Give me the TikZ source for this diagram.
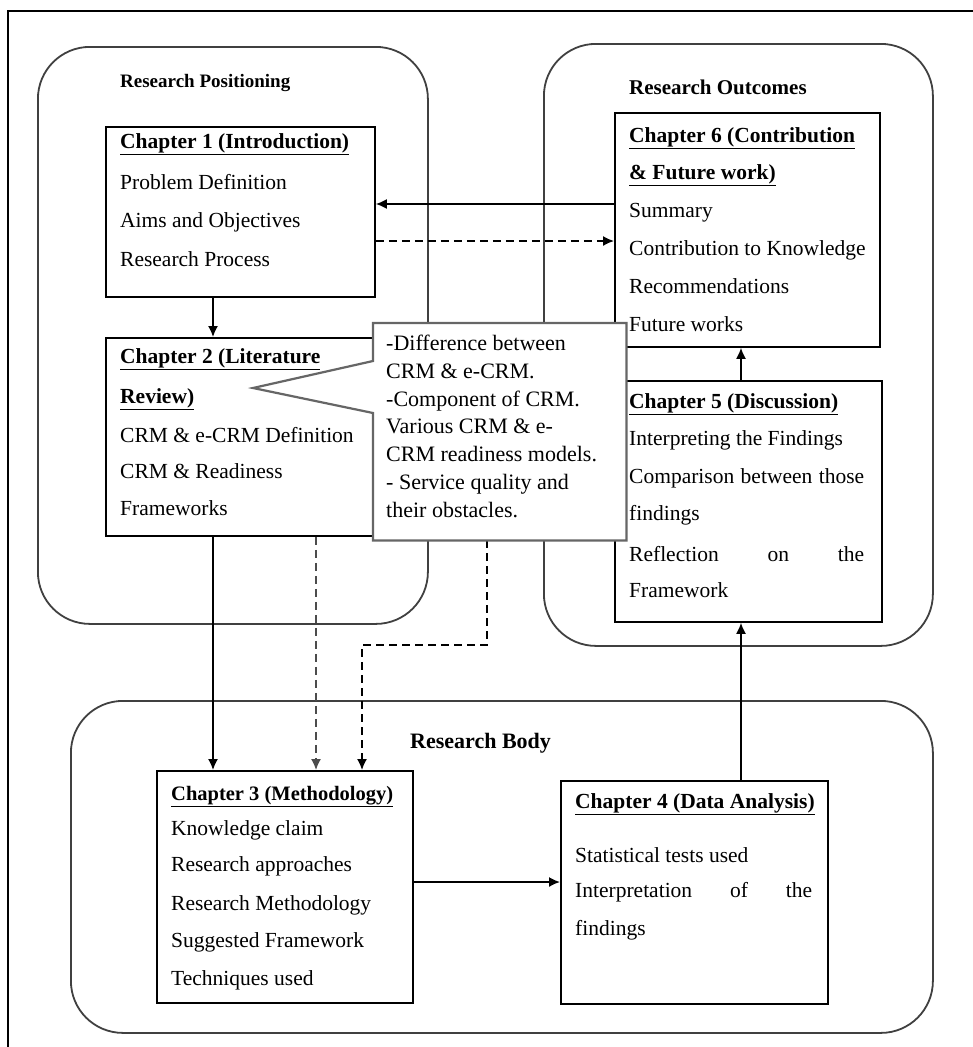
\documentclass[tikz,border=0pt]{standalone}
\usepackage{fontspec}
\setmainfont{Liberation Serif}
\usetikzlibrary{arrows.meta}
\begin{document}
\begin{tikzpicture}[x=1pt,y=-1pt,
  frame/.style={draw=black, line width=1.6pt},
  region/.style={draw=black!75, line width=1.8pt, rounded corners=52pt, anchor=north west, inner sep=0pt},
  chbox/.style={draw=black, line width=1.8pt, fill=white, anchor=north west, inner sep=0pt},
  txt/.style={anchor=west, inner sep=0pt, font=\fontsize{21.5}{26}\selectfont, text height=15pt, text depth=4.5pt},
  ttl/.style={anchor=west, inner sep=0pt, font=\fontsize{21.5}{26}\bfseries\selectfont, text height=15pt, text depth=4.5pt},
  cotxt/.style={anchor=west, inner sep=0pt, font=\fontsize{22}{26}\selectfont, text height=15pt, text depth=4.5pt},
  lbl/.style={anchor=west, inner sep=0pt, font=\fontsize{20}{24}\bfseries\selectfont},
  arr/.style={line width=1.6pt, -{Latex[length=11pt,width=10pt]}},
  darr/.style={arr, dash pattern=on 8pt off 5pt},
]
\useasboundingbox (0,0) rectangle (973,1047);
% outer frame
\draw[frame] (973,11) -- (8,11) -- (8,1047);

% helper coordinates
\coordinate (c213) at (213,0);
\coordinate (c316) at (316,0);
\coordinate (c362) at (362,0);
\coordinate (c487) at (487,0);
\coordinate (c741) at (741,0);
\coordinate (r204) at (0,204);
\coordinate (r241) at (0,241);
\coordinate (r645) at (0,645);
\coordinate (r882) at (0,882);
\coordinate (r361) at (0,361);
\coordinate (r413) at (0,413);
\coordinate (tip) at (253,388);

% regions
\node[region, minimum width=390pt, minimum height=577pt] (pos) at (37,46) {};
\node[region, minimum width=389pt, minimum height=602pt] (out) at (543,43) {};
\node[region, minimum width=862pt, minimum height=332pt] (body) at (70,700) {};
\node[lbl, font=\fontsize{19}{23}\bfseries\selectfont] (lpos) at (120,83) {Research Positioning};
\node[lbl, font=\fontsize{21}{25}\bfseries\selectfont] (lout) at (629,87) {Research Outcomes};
\node[lbl, font=\fontsize{22}{26}\bfseries\selectfont] (lbody) at (410,743) {Research Body};

% chapter boxes
\node[chbox, minimum width=269pt, minimum height=170pt] (ch1) at (105,126) {};
\node[chbox, minimum width=275pt, minimum height=198pt] (ch2) at (105,337) {};
\node[chbox, minimum width=265pt, minimum height=234pt] (ch6) at (614,112) {};
\node[chbox, minimum width=267pt, minimum height=241pt] (ch5) at (614,380) {};
\node[chbox, minimum width=256pt, minimum height=232pt] (ch3) at (156,770) {};
\node[chbox, minimum width=267pt, minimum height=223pt] (ch4) at (560,780) {};

% chapter 1
\node[ttl] (t1) at (120,143) {\underline{Chapter 1 (Introduction)}};
\node[txt] (t1a) at (120,184) {Problem Definition};
\node[txt] (t1b) at (120,222) {Aims and Objectives};
\node[txt] (t1c) at (120,261) {Research Process};
% chapter 2
\node[ttl] (t2) at (120,358) {\underline{Chapter 2 (Literature}};
\node[ttl] (t2r) at (120,398) {\underline{Review)}};
\node[txt] (t2a) at (120,437) {CRM \& e-CRM Definition};
\node[txt] (t2b) at (120,473) {CRM \& Readiness};
\node[txt] (t2c) at (120,510) {Frameworks};
% chapter 6
\node[ttl] (t6) at (629,137) {\underline{Chapter 6 (Contribution}};
\node[ttl] (t6r) at (629,174) {\underline{\& Future work)}};
\node[txt] (t6a) at (629,212) {Summary};
\node[txt] (t6b) at (629,250) {Contribution to Knowledge};
\node[txt] (t6c) at (629,288) {Recommendations};
\node[txt] (t6d) at (629,326) {Future works};
% chapter 5
\node[ttl] (t5) at (629,403) {\underline{Chapter 5 (Discussion)}};
\node[txt] (t5a) at (629,440) {Interpreting the Findings};
\node[txt] (t5b) at (629,478) {\makebox[235pt][s]{Comparison\hfill between\hfill those}};
\node[txt] (t5c) at (629,515) {findings};
\node[txt] (t5d) at (629,556) {\makebox[235pt][s]{Reflection\hfill on\hfill the}};
\node[txt] (t5e) at (629,592) {Framework};
% chapter 3
\node[ttl, font=\fontsize{20.5}{25}\bfseries\selectfont] (t3) at (171,795) {\underline{Chapter 3 (Methodology)}};
\node[txt] (t3a) at (171,830) {Knowledge claim};
\node[txt] (t3b) at (171,866) {Research approaches};
\node[txt] (t3c) at (171,905) {Research Methodology};
\node[txt] (t3d) at (171,942) {Suggested Framework};
\node[txt] (t3e) at (171,980) {Techniques used};
% chapter 4
\node[ttl] (t4) at (575,803) {\underline{Chapter 4 (Data Analysis)}};
\node[txt] (t4a) at (575,857) {Statistical tests used};
\node[txt] (t4b) at (575,892) {\makebox[237pt][s]{Interpretation\hfill of\hfill the}};
\node[txt] (t4c) at (575,930) {findings};

% connectors
\draw[arr] (ch1.south -| c213) -- (ch2.north -| c213);
\draw[arr] (ch6.west |- r204) -- (ch1.east |- r204);
\draw[darr] (ch1.east |- r241) -- (ch6.west |- r241);
\draw[arr] (ch2.south -| c213) -- (ch3.north -| c213);
\draw[darr, draw=black!70] (ch2.south -| c316) -- (ch3.north -| c316);
\draw[arr] (ch3.east |- r882) -- (ch4.west |- r882);
\draw[arr] (ch4.north -| c741) -- (ch5.south -| c741);
\draw[arr] (ch5.north -| c741) -- (ch6.south -| c741);

% callout
\node[anchor=north west, inner sep=0pt, minimum width=253pt, minimum height=217pt] (co) at (373,323) {};
\draw[darr] (co.south -| c487) |- (r645 -| c362) -- (ch3.north -| c362);
\filldraw[fill=white, draw=black!60, line width=2.2pt, line join=miter]
  (co.north west) -- (co.north east) -- (co.south east) -- (co.south west)
  -- (co.west |- r413) -- (tip) -- (co.west |- r361) -- cycle;
\node[cotxt] (k1) at (386,345) {-Difference between};
\node[cotxt] (k2) at (386,373) {CRM \& e-CRM.};
\node[cotxt] (k3) at (386,401) {-Component of CRM.};
\node[cotxt] (k4) at (386,428) {Various CRM \& e-};
\node[cotxt] (k5) at (386,456) {CRM readiness models.};
\node[cotxt] (k6) at (386,484) {- Service quality and};
\node[cotxt] (k7) at (386,512) {their obstacles.};
\end{tikzpicture}
\end{document}
